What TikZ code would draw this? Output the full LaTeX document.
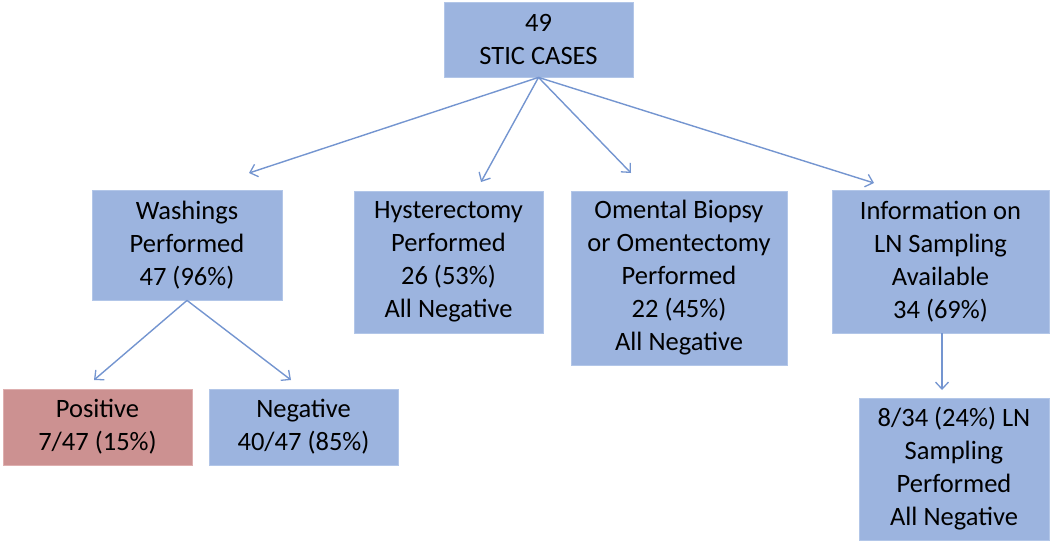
\documentclass[tikz,border=0pt]{standalone}
\usepackage{fontspec}
\setmainfont{Carlito}
\usetikzlibrary{arrows.meta}
\definecolor{boxblue}{RGB}{156,180,223}
\definecolor{boxedge}{RGB}{178,198,232}
\definecolor{boxred}{RGB}{204,145,145}
\definecolor{boxrededge}{RGB}{222,175,175}
\definecolor{linkblue}{RGB}{116,149,208}
\tikzset{
  bluebox/.style={rectangle, fill=boxblue, draw=boxedge, line width=0.8pt, inner sep=0pt, align=center,
    font=\fontsize{26.5}{33}\selectfont, text=black},
  redbox/.style={bluebox, fill=boxred, draw=boxrededge},
  link/.style={draw=linkblue, line width=1.4pt, -{Straight Barb[length=7pt,width=13pt,line width=1.3pt]}}
}
\begin{document}
\begin{tikzpicture}[x=1pt,y=-1pt]
\useasboundingbox (0,0) rectangle (1050,542);
\node[bluebox, minimum width=189pt, minimum height=75pt] (top) at (538.5,39.5) {49\\STIC CASES};
\node[bluebox, minimum width=190pt, minimum height=110pt] (wash) at (187,245) {Washings\\Performed\\47 (96\%)};
\node[bluebox, minimum width=189pt, minimum height=142pt] (hyst) at (448.5,262) {Hysterectomy\\Performed\\26 (53\%)\\All Negative};
\node[bluebox, minimum width=216pt, minimum height=174pt] (oment) at (679,278) {Omental Biopsy\\or Omentectomy\\Performed\\22 (45\%)\\All Negative};
\node[bluebox, minimum width=217pt, minimum height=143pt] (info) at (940.5,261.5) {Information on\\LN Sampling\\Available\\34 (69\%)};
\node[redbox, minimum width=189pt, minimum height=76pt] (pos) at (97.5,427) {Positive\\7/47 (15\%)};
\node[bluebox, minimum width=189pt, minimum height=76pt] (neg) at (303.5,427) {Negative\\40/47 (85\%)};
\node[bluebox, minimum width=190pt, minimum height=142pt] (ln) at (954,469) {8/34 (24\%) LN\\Sampling\\Performed\\All Negative};
\coordinate (e1) at (249,173);
\coordinate (e2) at (481,182);
\coordinate (e3) at (631,173);
\coordinate (e4) at (874,183);
\coordinate (e5) at (94,380);
\coordinate (e6) at (291,380);
\coordinate (e7) at (942,390);
\draw[link] (top.south) -- (e1);
\draw[link] (top.south) -- (e2);
\draw[link] (top.south) -- (e3);
\draw[link] (top.south) -- (e4);
\draw[link] (wash.south) -- (e5);
\draw[link] (wash.south) -- (e6);
\draw[link] (info.south -| e7) -- (e7);
\end{tikzpicture}
\end{document}
